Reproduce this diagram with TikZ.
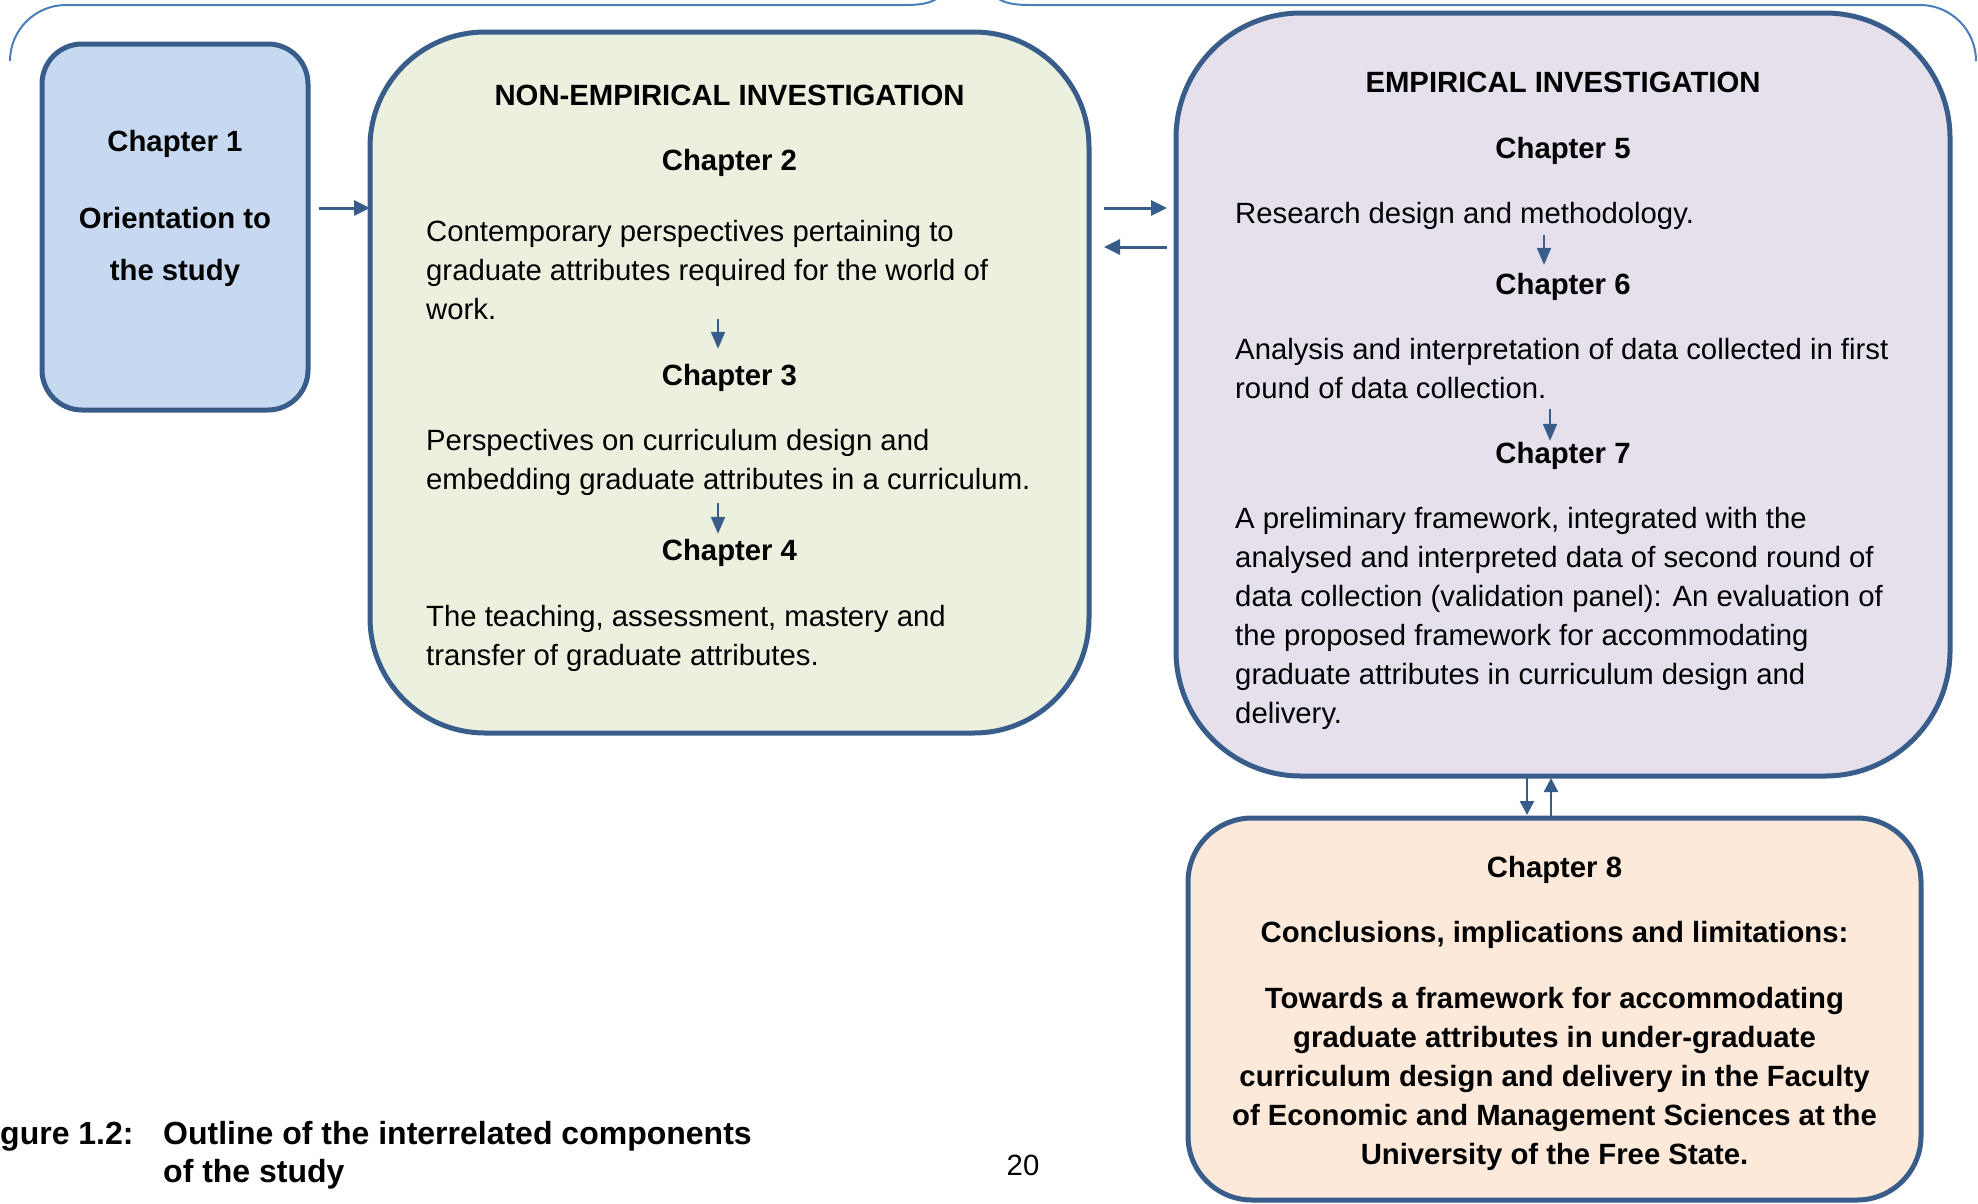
\documentclass[tikz,border=0pt]{standalone}
\usepackage{fontspec}
\setmainfont{Liberation Sans}
\usetikzlibrary{arrows.meta,calc}

\definecolor{frame}{HTML}{385D8A}
\definecolor{bracecol}{HTML}{4A7EBB}
\definecolor{fillblue}{HTML}{C6D9F1}
\definecolor{fillgreen}{HTML}{EBF1DE}
\definecolor{fillpurple}{HTML}{E5E0EC}
\definecolor{fillpeach}{HTML}{FDE9D9}

\newcommand\bodyfont{\fontsize{29.3}{39}\selectfont}
\newcommand\widefont{\fontsize{29.3}{52}\selectfont}
\newcommand\capfont{\fontsize{32}{38}\selectfont}

\tikzset{
  box/.style={draw=frame, line width=5pt, rectangle, inner sep=0pt, outer sep=0pt},
  arr/.style={draw=frame, line width=3pt, -{Triangle[length=16pt,width=15pt]}},
  varr/.style={draw=frame, line width=2.5pt, -{Triangle[length=14pt,width=14pt]}},
  sarr/.style={draw=frame, line width=2pt, -{Triangle[length=17pt,width=14pt]}},
  hd/.style={inner sep=0pt, anchor=base, font=\bodyfont\bfseries, text height=22pt, text depth=7pt},
  para/.style={inner sep=0pt, anchor=north west, align=left, font=\bodyfont},
  cpara/.style={inner sep=0pt, anchor=north, align=center, font=\bodyfont\bfseries},
  bracket/.style={draw=bracecol, line width=2pt},
}

\begin{document}
\begin{tikzpicture}[x=1pt, y=-1pt]
\useasboundingbox (0,0) rectangle (1978,1203);

% grouping bracket across the top
\draw[bracket] (10,61) arc[start angle=180, end angle=270, radius=56]
  -- (905,5) .. controls (925,5) and (935,2) .. (942,-6);
\draw[bracket] (993,-6) .. controls (1000,2) and (1010,5) .. (1030,5)
  -- (1920,5) arc[start angle=270, end angle=360, radius=56];

% chapter boxes
\node[box, fill=fillblue, rounded corners=40pt, minimum width=266pt, minimum height=366pt] (b1) at (175,227) {};
\node[box, fill=fillgreen, rounded corners=115pt, minimum width=719pt, minimum height=701pt] (b2) at (729.5,382.5) {};
\node[box, fill=fillpurple, rounded corners=125pt, minimum width=774pt, minimum height=763pt] (b3) at (1563,394.5) {};
\node[box, fill=fillpeach, rounded corners=64pt, minimum width=733pt, minimum height=382pt] (b4) at (1554.5,1009) {};

% chapter 1
\node[hd] (ch1) at (175,151) {Chapter 1};
\node[inner sep=0pt, anchor=north, align=center, font=\widefont\bfseries] (orient) at (175,191.6) {\strut Orientation to\\the study\strut};

% non-empirical investigation
\node[hd] (t2) at (729.5,105) {NON-EMPIRICAL INVESTIGATION};
\node[hd] (ch2) at (729.5,170) {Chapter 2};
\node[para] (p1) at (426,213.7) {\strut Contemporary perspectives pertaining to\\graduate attributes required for the world of\\work.\strut};
\node[hd] (ch3) at (729.5,385) {Chapter 3};
\node[para] (p2) at (426,422.7) {\strut Perspectives on curriculum design and\\embedding graduate attributes in a curriculum.\strut};
\node[hd] (ch4) at (729.5,560) {Chapter 4};
\node[para] (p3) at (426,598.7) {\strut The teaching, assessment, mastery and\\transfer of graduate attributes.\strut};

% empirical investigation
\node[hd] (t3) at (1563,92) {EMPIRICAL INVESTIGATION};
\node[hd] (ch5) at (1563,158) {Chapter 5};
\node[para] (p5) at (1235,195.7) {\strut Research design and methodology.\strut};
\node[hd] (ch6) at (1563,294) {Chapter 6};
\node[para] (p6) at (1235,331.7) {\strut Analysis and interpretation of data collected in first\\round of data collection.\strut};
\node[hd] (ch7) at (1563,463) {Chapter 7};
\node[para] (p7) at (1235,500.7) {\strut A preliminary framework, integrated with the\\analysed and interpreted data of second round of\\data collection (validation panel): An evaluation of\\the proposed framework for accommodating\\graduate attributes in curriculum design and\\delivery.\strut};

% chapter 8
\node[hd] (ch8) at (1554.5,877) {Chapter 8};
\node[hd] (concl) at (1554.5,942) {Conclusions, implications and limitations:};
\node[cpara] (p8) at (1554.5,980.7) {\strut Towards a framework for accommodating\\graduate attributes in under-graduate\\curriculum design and delivery in the Faculty\\of Economic and Management Sciences at the\\University of the Free State.\strut};

% links between boxes
\coordinate (l12) at ($(b1.east)+(11,-19)$);
\draw[arr] (l12) -- (l12 -| b2.west);
\draw[arr] ($(b2.east)+(15,-174.5)$) -- ($(b3.west)+(-9,-186.5)$);
\draw[arr] ($(b3.west)+(-9,-147.5)$) -- ($(b2.east)+(15,-135.5)$);
\draw[varr] ($(b3.south)+(-36,1)$) -- ($(b4.north)+(-27.5,-3)$);
\draw[varr] ($(b4.north)+(-3.5,-1)$) -- ($(b3.south)+(-12,2)$);

% links between chapters inside the boxes
\draw[sarr] ($(ch3.north |- p1.south)+(-11.5,-11.7)$) -- ($(ch3.north)+(-11.5,-14)$);
\draw[sarr] ($(ch4.north |- p2.south)+(-11.5,2.3)$) -- ($(ch4.north)+(-11.5,-4)$);
\draw[sarr] ($(ch6.north |- p5.south)+(-19,0.3)$) -- ($(ch6.north)+(-19,-7)$);
\draw[sarr] ($(ch7.north |- p6.south)+(-13,-0.7)$) -- ($(ch7.north)+(-13,0)$);

% caption and page number
\node[inner sep=0pt, anchor=base west, font=\capfont\bfseries] (figlab) at (0,1144) {gure 1.2:};
\node[inner sep=0pt, anchor=north west, align=left, font=\capfont\bfseries] (figcap) at (163,1117.4) {\strut Outline of the interrelated components\\of the study\strut};
\node[inner sep=0pt, anchor=base, font=\bodyfont] (pagenum) at (1023,1175) {20};
\end{tikzpicture}
\end{document}
